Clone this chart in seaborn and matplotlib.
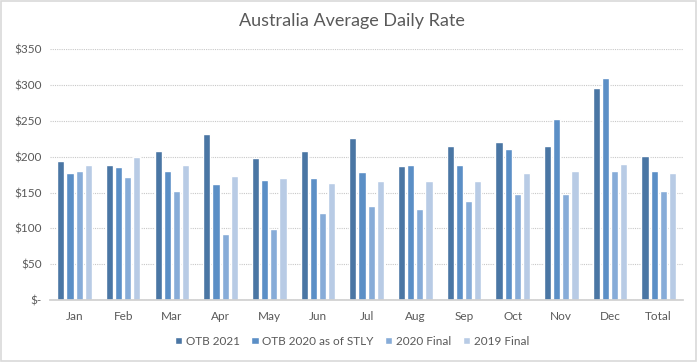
import pandas as pd
import numpy as np
import seaborn as sns
import matplotlib.pyplot as plt
from matplotlib.patches import Rectangle

sns.set_theme(style='white')
plt.rcParams['font.family'] = ['Lato', 'DejaVu Sans']

# %% Data
months = ['Jan', 'Feb', 'Mar', 'Apr', 'May', 'Jun', 'Jul',
          'Aug', 'Sep', 'Oct', 'Nov', 'Dec', 'Total']
series_names = ['OTB 2021', 'OTB 2020 as of STLY', '2020 Final', '2019 Final']

otb_2021 = [194, 188, 208, 232, 198, 208, 226, 187, 215, 221, 215, 296, 201]
otb_2020_stly = [177, 186, 180, 162, 168, 170, 179, 188, 188, 211, 253, 310, 180]
final_2020 = [180, 172, 152, 92, 99, 122, 131, 127, 138, 148, 148, 180, 152]
final_2019 = [188, 200, 188, 173, 170, 163, 166, 166, 166, 177, 180, 190, 177]

y_ticks = [0, 50, 100, 150, 200, 250, 300, 350]
y_labels = ['$-', '$50', '$100', '$150', '$200', '$250', '$300', '$350']

colors = ['#4a76a4', '#5b8fc6', '#87acd8', '#b8cbe5']

df = pd.DataFrame({'month': months * 4,
                   'series': np.repeat(series_names, len(months)),
                   'rate': otb_2021 + otb_2020_stly + final_2020 + final_2019})

# %% Plot
fig = plt.figure(figsize=(6.97, 3.62), dpi=100)
ax = fig.add_axes([0.072, 0.171, 0.908, 0.693])

sns.barplot(data=df, x='month', y='rate', hue='series', palette=colors,
            width=0.75, gap=0.22, saturation=1, ax=ax)

ax.set_ylim(0, 350)
ax.set_yticks(y_ticks)
ax.set_yticklabels(y_labels)
ax.set_xlabel('')
ax.set_ylabel('')
ax.set_xlim(-0.5, len(months) - 0.5)
ax.tick_params(axis='both', length=0, labelsize=8.5, labelcolor='#595959')
ax.tick_params(axis='x', pad=8)
ax.tick_params(axis='y', pad=6)
ax.yaxis.grid(True, color='#c8c8c8', linestyle=(0, (1, 1)), linewidth=0.8)
ax.set_axisbelow(True)
for side in ['top', 'right', 'left']:
    ax.spines[side].set_visible(False)
ax.spines['bottom'].set_color('#d0d0d0')

fig.text(0.505, 0.942, 'Australia Average Daily Rate', ha='center', va='center',
         fontsize=13, color='#595959')

handles, labels = ax.get_legend_handles_labels()
ax.legend(handles, labels, loc='center', bbox_to_anchor=(0.505, 0.058),
          bbox_transform=fig.transFigure, ncol=4, frameon=False,
          fontsize=8.5, handlelength=0.6, handleheight=0.6, handletextpad=0.3,
          columnspacing=1.0, labelcolor='#595959')

fig.add_artist(Rectangle((0.001, 0.002), 0.997, 0.995, transform=fig.transFigure,
                         fill=False, edgecolor='#d9d9d9', linewidth=1.2))

fig.savefig('out.png', dpi=100, facecolor='white')
